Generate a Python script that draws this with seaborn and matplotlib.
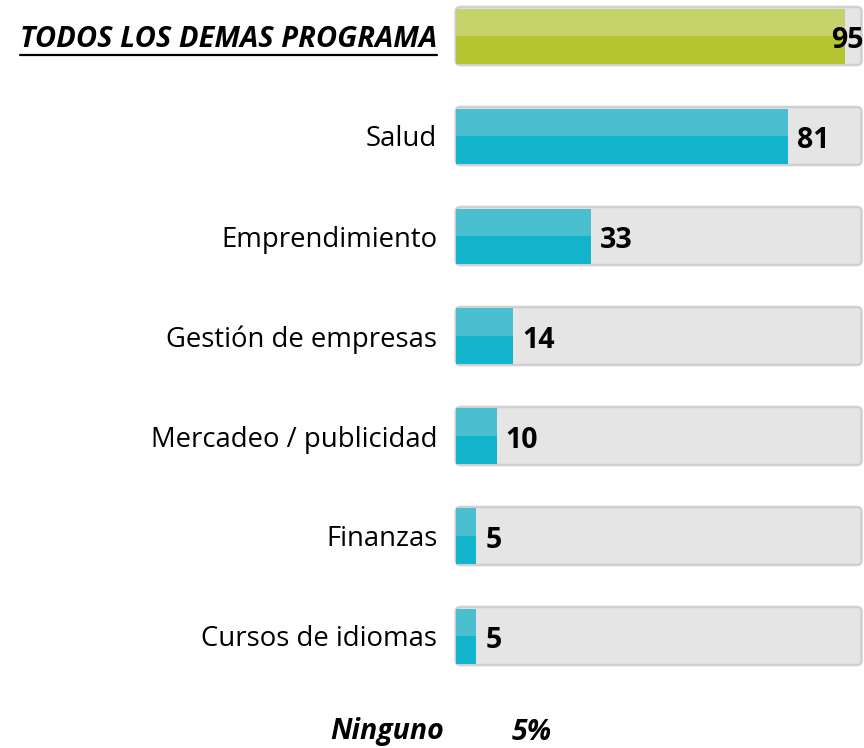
import matplotlib
matplotlib.use("Agg")
import matplotlib.pyplot as plt
import seaborn as sns
import pandas as pd
from matplotlib.lines import Line2D
from matplotlib.patches import FancyBboxPatch

categories = ["TODOS LOS DEMAS PROGRAMA", "Salud", "Emprendimiento", "Gestión de empresas",
              "Mercadeo / publicidad", "Finanzas", "Cursos de idiomas"]
values = [95, 81, 33, 14, 10, 5, 5]
track_max = [99] * 7
footer_label = "Ninguno"
footer_value = "5%"

dark_cols = ["#B5C532"] + ["#12B4CB"] * 6
light_cols = ["#C6D36B"] + ["#4ABFCF"] * 6

sns.set_theme(style="white")
plt.rcParams['font.family'] = ['Open Sans', 'DejaVu Sans']
plt.rcParams['text.color'] = 'black'

fig = plt.figure(figsize=(8.64, 7.48), dpi=100)
ax = fig.add_axes([454 / 864, 1 - 700 / 748, (864 - 454) / 864, 700 / 748])

df = pd.DataFrame({"cat": categories, "val": values, "track": track_max})

sns.barplot(data=df, x="track", y="cat", color="#E6E5E6", edgecolor="#CFCFCF",
            linewidth=1.8, width=0.58, saturation=1, ax=ax)
track_patches = list(ax.patches)
for p in track_patches:
    fb = FancyBboxPatch((p.get_x(), p.get_y()), p.get_width(), p.get_height(),
                        boxstyle="round,pad=0,rounding_size=1.2", mutation_aspect=0.0412,
                        facecolor="#E6E5E6", edgecolor="#CFCFCF", linewidth=1.8, zorder=0.9)
    ax.add_patch(fb)
    p.set_visible(False)

sns.barplot(data=df, x="val", y="cat", hue="cat", palette=dict(zip(categories, dark_cols)),
            legend=False, linewidth=0, width=0.55, saturation=1, ax=ax)
ypos = list(range(len(categories)))
ax.barh([y - 0.1375 for y in ypos], values, height=0.275, color=light_cols, linewidth=0)

ax.set_xlim(-0.4, 99.6)
ax.set_ylim(6.64, -0.36)
for s in ax.spines.values():
    s.set_visible(False)
ax.set_xlabel("")
ax.set_ylabel("")
ax.set_xticks([])
ax.tick_params(axis='y', length=0, pad=12, labelsize=19.8, colors="black")

labels = ax.get_yticklabels()
labels[0].set_fontweight("bold")
labels[0].set_fontstyle("italic")
labels[0].set_fontsize(21)

for y, v in zip(ypos, values):
    if v > 90:
        ax.text(99.5, y + 0.04, str(v), ha="right", va="center", fontsize=20.5, fontweight="bold")
    else:
        ax.text(v + 2.2, y + 0.04, str(v), ha="left", va="center", fontsize=20.5, fontweight="bold")

fig.text(330 / 864, 1 - 732 / 748, footer_label, ha="left", va="center", fontsize=20.5,
         fontweight="bold", fontstyle="italic")
fig.text(512 / 864, 1 - 732 / 748, footer_value, ha="left", va="center", fontsize=20.5,
         fontweight="bold", fontstyle="italic")

fig.canvas.draw()
bb = labels[0].get_window_extent(renderer=fig.canvas.get_renderer())
inv = fig.transFigure.inverted()
(x0, y0), (x1, y1) = inv.transform([(bb.x0, bb.y0), (bb.x1, bb.y0)])
fig.add_artist(Line2D([x0, x1], [y0 - 0.001, y0 - 0.001], color="black", linewidth=1.6,
                      transform=fig.transFigure))

fig.savefig("out.png", dpi=100)
